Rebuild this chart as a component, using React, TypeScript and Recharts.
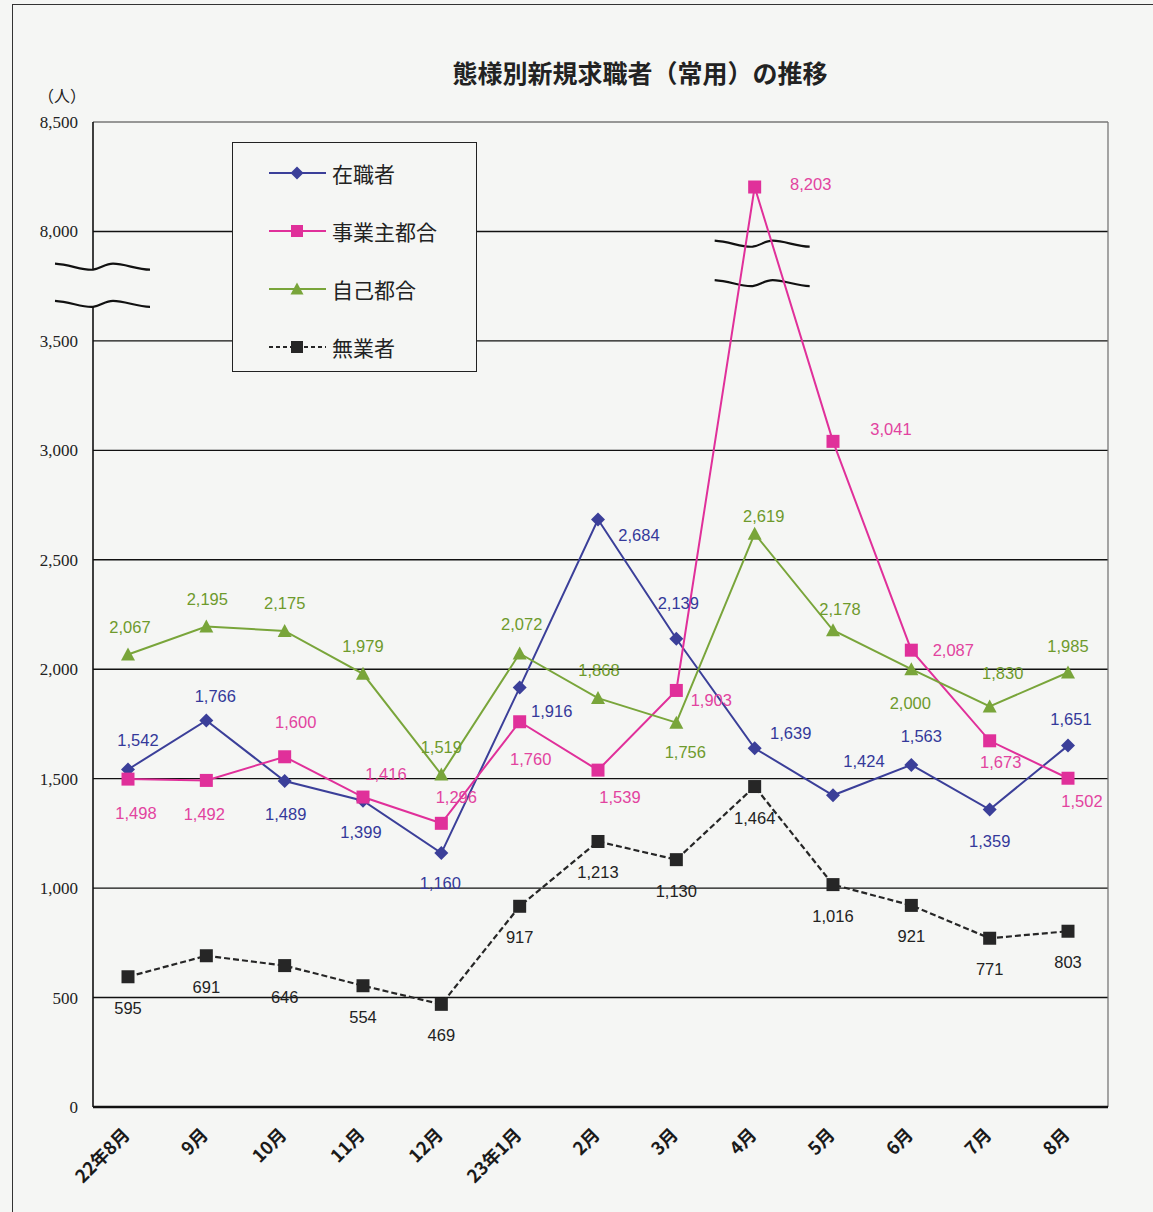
import type { FC } from 'react';
import { LineChart, Line, XAxis, YAxis, CartesianGrid, Legend, ReferenceArea, ReferenceLine } from 'recharts';

const months = ['22年8月', '9月', '10月', '11月', '12月', '23年1月', '2月', '3月', '4月', '5月', '6月', '7月', '8月'];
const zaishoku = [1542, 1766, 1489, 1399, 1160, 1916, 2684, 2139, 1639, 1424, 1563, 1359, 1651];
const jigyonushi = [1498, 1492, 1600, 1416, 1296, 1760, 1539, 1903, 8203, 3041, 2087, 1673, 1502];
const jiko = [2067, 2195, 2175, 1979, 1519, 2072, 1868, 1756, 2619, 2178, 2000, 1830, 1985];
const mugyo = [595, 691, 646, 554, 469, 917, 1213, 1130, 1464, 1016, 921, 771, 803];
const yTickLabels = [0, 500, 1000, 1500, 2000, 2500, 3000, 3500, 8000, 8500];

// axis is broken between 3,500 and 8,000: values above the break are shifted down by 4,000
const BREAK_SHIFT = 4000;
const toAxis = (v: number) => (v >= 7500 ? v - BREAK_SHIFT : v);
const fromAxis = (v: number) => (v >= 3750 ? v + BREAK_SHIFT : v);

// label offsets (dx, dy) from each point, per series
const zaiLabelPos = [[10, -29], [9, -24], [1, 33], [-2, 31], [-1, 30], [32, 23], [41, 15], [2, -36], [36, -15], [31, -34], [10, -29], [0, 31], [3, -27]];
const jigLabelPos = [[8, 34], [-2, 34], [11, -35], [23, -23], [15, -26], [11, 37], [22, 27], [35, 10], [56, -3], [58, -12], [42, 0], [11, 21], [14, 23]];
const jikLabelPos = [[2, -28], [1, -28], [0, -28], [0, -28], [0, -28], [2, -29], [1, -28], [9, 29], [9, -18], [7, -21], [-1, 34], [13, -33], [0, -27]];
const mugLabelPos = months.map(() => [0, 31]);

const rows = months.map((m, i) => ({
  month: m,
  zaishoku: toAxis(zaishoku[i]),
  jigyonushi: toAxis(jigyonushi[i]),
  jiko: toAxis(jiko[i]),
  mugyo: toAxis(mugyo[i]),
}));

const X_PAD_LEFT = 35;
const X_PAD_RIGHT = 40;

const BLUE = '#3b3f99';
const PINK = '#e0309a';
const GREEN = '#79a53a';
const BLACK = '#262626';
const BG = '#f5f6f4';

type MarkerKind = 'diamond' | 'square' | 'triangle';

const marker = (kind: MarkerKind, cx: number, cy: number, color: string, size = 7) => {
  if (kind === 'diamond') {
    return <polygon points={`${cx},${cy - size} ${cx + size},${cy} ${cx},${cy + size} ${cx - size},${cy}`} fill={color} />;
  }
  if (kind === 'triangle') {
    return <polygon points={`${cx},${cy - size} ${cx + size},${cy + size - 1} ${cx - size},${cy + size - 1}`} fill={color} />;
  }
  return <rect x={cx - size + 0.5} y={cy - size + 0.5} width={size * 2 - 1} height={size * 2 - 1} fill={color} />;
};

const makeDot = (kind: MarkerKind, color: string, labelColor: string, raw: number[], pos: number[][]) => (props: any) => {
  const { cx, cy, index } = props;
  if (cx == null || cy == null) return <g key={`n-${index}`} />;
  const [dx, dy] = pos[index];
  return (
    <g key={`d-${index}`}>
      {marker(kind, cx, cy, color)}
      <text
        x={cx + dx}
        y={cy + dy}
        textAnchor="middle"
        dominantBaseline="central"
        fill={labelColor}
        fontSize={16.5}
        fontFamily="'Liberation Sans', Arial, sans-serif"
      >
        {raw[index].toLocaleString('en-US')}
      </text>
    </g>
  );
};

const XTick = ({ x, y, payload }: any) => (
  <g transform={`translate(${x + 3},${y + 21})`}>
    <text
      transform="rotate(-45)"
      textAnchor="end"
      fill="#1a1a1a"
      fontSize={18}
      fontWeight={700}
      fontFamily="'Noto Sans CJK JP', sans-serif"
    >
      {payload.value}
    </text>
  </g>
);

const wave = (x0: number, y: number) =>
  `M${x0},${y - 5} C${x0 + 15},${y - 4} ${x0 + 28},${y + 2} ${x0 + 38},${y + 1} C${x0 + 46},${y} ${x0 + 50},${y - 5} ${x0 + 58},${y - 5} C${x0 + 70},${y - 5} ${x0 + 82},${y + 1} ${x0 + 95},${y + 1}`;

// frame, left axis and left break marks; the area spans the first..last category point, so the padding is added back
const PlotFrame = (props: any) => {
  const { x, y, width, height } = props;
  const left = x - X_PAD_LEFT;
  const right = x + width + X_PAD_RIGHT;
  const yOf = (v: number) => y + height * (1 - v / 4500);
  const top = yOf(3830);
  const bot = yOf(3660);
  return (
    <g>
      <line x1={left} y1={y} x2={right} y2={y} stroke="#777" strokeWidth={1.3} />
      <line x1={right} y1={y} x2={right} y2={y + height} stroke="#777" strokeWidth={1.3} />
      <line x1={left} y1={y} x2={left} y2={top + 1} stroke="#111" strokeWidth={1.6} />
      <line x1={left} y1={bot + 1} x2={left} y2={y + height} stroke="#111" strokeWidth={1.6} />
      <path d={wave(left - 38, top)} fill="none" stroke="#111" strokeWidth={2.2} />
      <path d={wave(left - 38, bot)} fill="none" stroke="#111" strokeWidth={2.2} />
    </g>
  );
};

// break marks across the 4月 spike
const MidBreak = (props: any) => {
  const { x1, y1, y2 } = props;
  const h = Math.abs(y2 - y1);
  const top = Math.min(y1, y2);
  const yOf = (v: number) => top + h * (1 - v / 4500);
  return (
    <g>
      <path d={wave(x1 - 40, yOf(3935))} fill="none" stroke="#111" strokeWidth={2.2} />
      <path d={wave(x1 - 40, yOf(3755))} fill="none" stroke="#111" strokeWidth={2.2} />
    </g>
  );
};

const legendItems = [
  { label: '在職者', color: BLUE, kind: 'diamond' as MarkerKind, dash: undefined },
  { label: '事業主都合', color: PINK, kind: 'square' as MarkerKind, dash: undefined },
  { label: '自己都合', color: GREEN, kind: 'triangle' as MarkerKind, dash: undefined },
  { label: '無業者', color: BLACK, kind: 'square' as MarkerKind, dash: '4 3' },
];

const LegendBox = () => (
  <div style={{ width: 245, height: 230, background: BG, border: '1.5px solid #222', boxSizing: 'border-box' }}>
    <svg width={243} height={227}>
      {legendItems.map((it, i) => {
        const cy = 30 + i * 58;
        return (
          <g key={it.label}>
            <line x1={36} y1={cy} x2={93} y2={cy} stroke={it.color} strokeWidth={2.2} strokeDasharray={it.dash} />
            {marker(it.kind, 64, cy, it.color, 6.5)}
            <text x={99} y={cy} dominantBaseline="central" fontSize={21} fill="#222" fontFamily="'Noto Sans CJK JP', sans-serif">
              {it.label}
            </text>
          </g>
        );
      })}
    </svg>
  </div>
);

const gridValues = yTickLabels.slice(0, -1).map(toAxis);

const App: FC = () => {
  return (
    <div style={{ position: 'absolute', left: 0, top: 0, width: 1153, height: 1212, overflow: 'hidden', background: BG }}>
      <div style={{ position: 'absolute', left: 12, top: 4, width: 1200, height: 1250, border: '1.5px solid #333' }} />
      <div
        style={{
          position: 'absolute',
          left: 0,
          width: 1280,
          top: 55,
          textAlign: 'center',
          fontSize: 25,
          fontWeight: 700,
          color: '#222',
          fontFamily: "'Noto Sans CJK JP', sans-serif",
          lineHeight: '34px',
        }}
      >
        態様別新規求職者（常用）の推移
      </div>
      <div style={{ position: 'absolute', left: 38, top: 83, fontSize: 16, color: '#222', fontFamily: "'Noto Sans CJK JP', sans-serif" }}>
        （人）
      </div>
      <div style={{ position: 'absolute', left: 0, top: 0 }}>
        <LineChart width={1153} height={1212} data={rows} margin={{ top: 122, right: 45, left: 13, bottom: 15 }}>
          <CartesianGrid horizontal vertical={false} horizontalValues={gridValues} stroke="#111" strokeWidth={1.4} />
          <XAxis
            dataKey="month"
            height={90}
            padding={{ left: X_PAD_LEFT, right: X_PAD_RIGHT }}
            axisLine={{ stroke: '#111', strokeWidth: 2.4 }}
            tickLine={false}
            tick={<XTick />}
            interval={0}
          />
          <YAxis
            width={80}
            domain={[0, 4500]}
            ticks={yTickLabels.map(toAxis)}
            tickFormatter={(v: number) => fromAxis(v).toLocaleString('en-US')}
            axisLine={false}
            tickLine={false}
            tickMargin={9}
            interval={0}
            tick={{ fill: '#222', fontSize: 17, fontFamily: "'Liberation Serif', serif" }}
          />
          <ReferenceArea y1={0} y2={4500} shape={<PlotFrame />} ifOverflow="visible" />
          <ReferenceLine x="4月" shape={<MidBreak />} ifOverflow="visible" />
          <Legend
            layout="vertical"
            align="center"
            verticalAlign="middle"
            content={() => <LegendBox />}
            wrapperStyle={{ position: 'absolute', left: 232, top: 142, width: 245, height: 230 }}
          />
          <Line
            dataKey="zaishoku"
            stroke={BLUE}
            strokeWidth={2}
            dot={makeDot('diamond', BLUE, '#34399a', zaishoku, zaiLabelPos)}
            activeDot={false}
            isAnimationActive={false}
          />
          <Line
            dataKey="jigyonushi"
            stroke={PINK}
            strokeWidth={2}
            dot={makeDot('square', PINK, '#e2439f', jigyonushi, jigLabelPos)}
            activeDot={false}
            isAnimationActive={false}
          />
          <Line
            dataKey="jiko"
            stroke={GREEN}
            strokeWidth={2}
            dot={makeDot('triangle', GREEN, '#6e9a2c', jiko, jikLabelPos)}
            activeDot={false}
            isAnimationActive={false}
          />
          <Line
            dataKey="mugyo"
            stroke={BLACK}
            strokeWidth={2.2}
            strokeDasharray="6 3"
            dot={makeDot('square', BLACK, '#222', mugyo, mugLabelPos)}
            activeDot={false}
            isAnimationActive={false}
          />
        </LineChart>
      </div>
    </div>
  );
};

export default App;
